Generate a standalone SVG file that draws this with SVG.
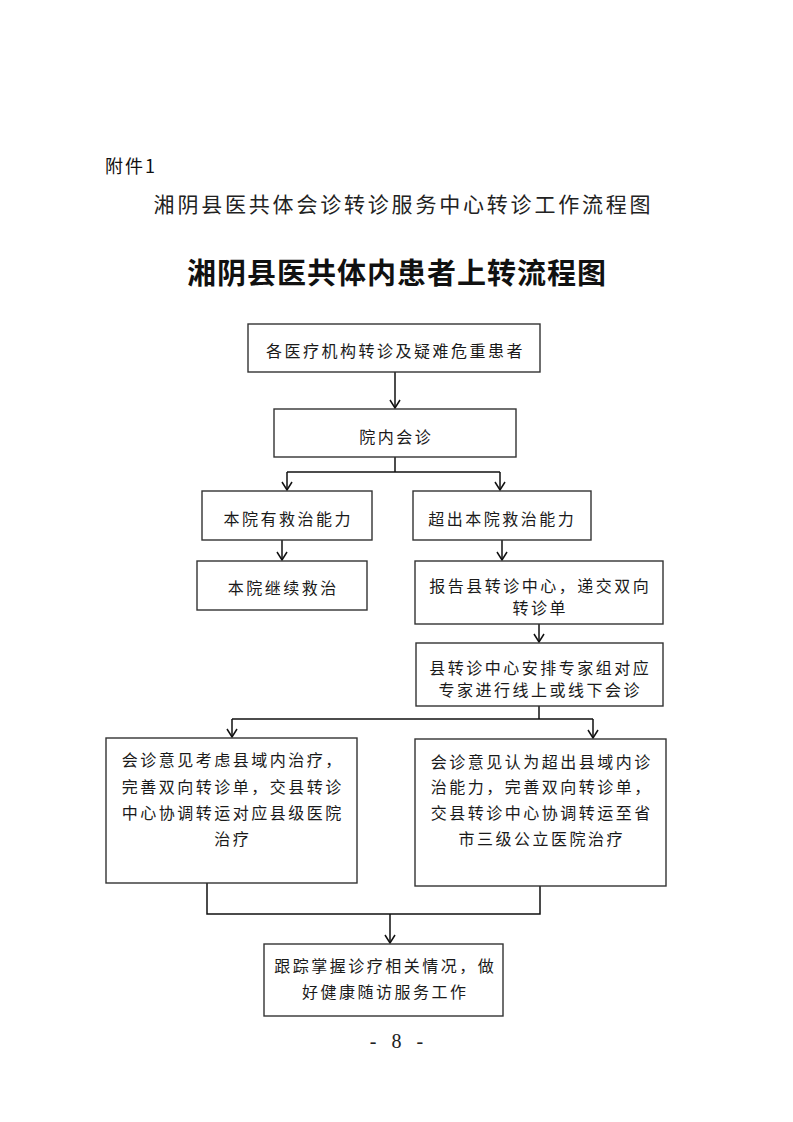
<svg xmlns="http://www.w3.org/2000/svg" width="793" height="1122" viewBox="0 0 793 1122">
<style>
.bg{fill:#fff}
.box{fill:#fff;stroke:#333;stroke-width:1.4}
.t{font-family:"Noto Sans CJK SC","Liberation Sans",sans-serif;font-size:16px;letter-spacing:2.5px;fill:#1a1a1a;text-anchor:middle;dominant-baseline:central}
.conn line,.conn polyline{stroke:#111;stroke-width:1.5;fill:none}
.arr{marker-end:url(#ah)}
</style>
<defs>
<marker id="ah" viewBox="0 0 10 12" refX="9" refY="6" markerWidth="10" markerHeight="12" markerUnits="userSpaceOnUse" orient="auto">
<path d="M1,1 L9,6 L1,11" fill="none" stroke="#111" stroke-width="1.5"/>
</marker>
</defs>
<rect class="bg" x="0" y="0" width="793" height="1122"/>
<g id="header">
<text x="105" y="165" font-family="Noto Sans CJK SC,Liberation Sans,sans-serif" font-size="18" letter-spacing="2" fill="#111" dominant-baseline="central">附件1</text>
<text x="403.5" y="203" font-family="Noto Sans CJK SC,Liberation Sans,sans-serif" font-size="21" letter-spacing="2.8" fill="#222" text-anchor="middle" dominant-baseline="central">湘阴县医共体会诊转诊服务中心转诊工作流程图</text>
<text x="397" y="271" font-family="Noto Sans CJK SC,Liberation Sans,sans-serif" font-size="29" font-weight="bold" letter-spacing="1" fill="#111" text-anchor="middle" dominant-baseline="central">湘阴县医共体内患者上转流程图</text>
</g>
<g class="conn" id="connectors">
<line class="arr" x1="395" y1="372" x2="395" y2="408"/>
<polyline points="395,457 395,472"/>
<line x1="287" y1="472" x2="500" y2="472"/>
<line class="arr" x1="287" y1="472" x2="287" y2="490"/>
<line class="arr" x1="500" y1="472" x2="500" y2="490"/>
<line class="arr" x1="282" y1="540" x2="282" y2="560"/>
<line class="arr" x1="502" y1="540" x2="502" y2="560"/>
<line class="arr" x1="539" y1="624" x2="539" y2="642"/>
<line x1="539" y1="706" x2="539" y2="719"/>
<line x1="232" y1="719" x2="593" y2="719"/>
<line class="arr" x1="232" y1="719" x2="232" y2="737"/>
<line class="arr" x1="593" y1="719" x2="593" y2="738"/>
<polyline points="207,883 207,914 540,914 540,886"/>
<line class="arr" x1="390" y1="914" x2="390" y2="943"/>
</g>
<g id="n1">
<rect class="box" x="248" y="324" width="292" height="48"/>
<text class="t" x="395.5" y="350" font-size="17" letter-spacing="3">各医疗机构转诊及疑难危重患者</text>
</g>
<g id="n2">
<rect class="box" x="274" y="409" width="242" height="48"/>
<text class="t" x="396.3" y="436">院内会诊</text>
</g>
<g id="n3">
<rect class="box" x="202" y="491" width="170" height="49"/>
<text class="t" x="288.3" y="518">本院有救治能力</text>
</g>
<g id="n4">
<rect class="box" x="413" y="491" width="178" height="49"/>
<text class="t" x="502.3" y="518">超出本院救治能力</text>
</g>
<g id="n5">
<rect class="box" x="197" y="561" width="170" height="49"/>
<text class="t" x="283.3" y="587">本院继续救治</text>
</g>
<g id="n6">
<rect class="box" x="415" y="561" width="248" height="63"/>
<text class="t" x="540.3" y="585">报告县转诊中心，递交双向</text>
<text class="t" x="540.3" y="607">转诊单</text>
</g>
<g id="n7">
<rect class="box" x="416" y="643" width="247" height="63"/>
<text class="t" x="540.3" y="667">县转诊中心安排专家组对应</text>
<text class="t" x="540.3" y="689">专家进行线上或线下会诊</text>
</g>
<g id="n8">
<rect class="box" x="106" y="738" width="251" height="145"/>
<text class="t" x="232.8" y="759">会诊意见考虑县域内治疗，</text>
<text class="t" x="232.8" y="786">完善双向转诊单，交县转诊</text>
<text class="t" x="232.8" y="812">中心协调转运对应县级医院</text>
<text class="t" x="232.8" y="838">治疗</text>
</g>
<g id="n9">
<rect class="box" x="415" y="739" width="251" height="147"/>
<text class="t" x="541.8" y="761">会诊意见认为超出县域内诊</text>
<text class="t" x="541.8" y="786">治能力，完善双向转诊单，</text>
<text class="t" x="541.8" y="812">交县转诊中心协调转运至省</text>
<text class="t" x="541.8" y="838">市三级公立医院治疗</text>
</g>
<g id="n10">
<rect class="box" x="264" y="944" width="239" height="72"/>
<text class="t" x="385.3" y="965">跟踪掌握诊疗相关情况，做</text>
<text class="t" x="385.3" y="991">好健康随访服务工作</text>
</g>
<g id="footer">
<text x="399" y="1041" font-family="Liberation Serif,serif" font-size="20" letter-spacing="5" fill="#222" text-anchor="middle" dominant-baseline="central">- 8 -</text>
</g>
</svg>
